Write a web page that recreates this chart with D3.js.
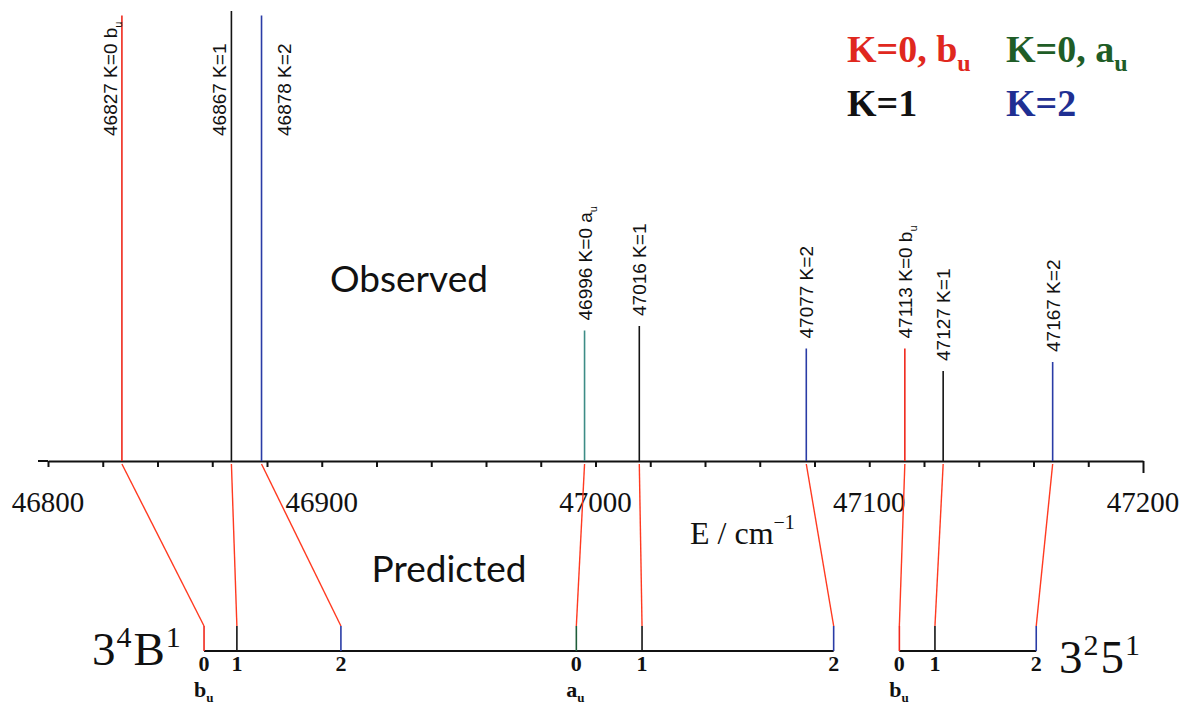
<!DOCTYPE html>
<html>
<head>
<meta charset="utf-8">
<script src="https://cdn.jsdelivr.net/npm/d3@7"></script>
<style>
  html, body { margin: 0; padding: 0; background: #fff; }
  svg { display: block; }
</style>
</head>
<body>
<script>
// Observed band origins (cm^-1), their K value, symmetry and relative intensity
const observedE = [46827, 46867, 46878, 46996, 47016, 47077, 47113, 47127, 47167];
const observedK = [0, 1, 2, 0, 1, 2, 0, 1, 2];
const observedSym = ["b", "", "", "a", "", "", "b", "", ""];
const observedIntensity = [99, 100, 99, 29, 30, 25, 25, 20, 22];
const observedLabelSide = ["left", "left", "right", "top", "top", "top", "top", "top", "top"];

// Predicted positions of the same levels, grouped by vibronic band
const predictedE = [46857, 46869, 46907, 46993, 47017, 47087, 47111, 47124, 47161];
const predictedGroup = [0, 0, 0, 0, 0, 0, 1, 1, 1];
// band designations as [base, superscript, base, superscript]
const groupNames = [["3", "4", "B", "1"], ["3", "2", "5", "1"]];

// Axis ticks
const minorTicks = d3.range(46800, 47201, 20);
const majorTicks = [46800, 46900, 47000, 47100, 47200];

// Legend entries
const legendText = ["K=0, b", "K=0, a", "K=1", "K=2"];
const legendSub = ["u", "u", "", ""];

const W = 1183, H = 704;
const colorOf = (k, sym) => k === 0 ? (sym === "a" ? "#3d8c86" : "#f0281c") : (k === 1 ? "#141414" : "#2a3ca6");
const legendColors = ["#e0281e", "#1f5d27", "#111111", "#1f2f92"];

const svg = d3.select("body").append("svg").attr("width", W).attr("height", H);
svg.append("rect").attr("width", W).attr("height", H).attr("fill", "#fff");

const x = d3.scaleLinear().domain([46800, 47200]).range([48, 1143]);
const axisY = 461;
const y = d3.scaleLinear().domain([0, 100]).range([axisY, 11]);

const serif = "'Liberation Serif', 'Times New Roman', serif";
const narrow = "'Liberation Sans Narrow', 'Arial Narrow', 'Liberation Sans', sans-serif";

// ---- energy axis ----
const axis = d3.axisBottom(x).tickValues(minorTicks).tickSize(6).tickSizeOuter(0).tickFormat("");
const gAxis = svg.append("g").attr("transform", `translate(0,${axisY})`).call(axis);
gAxis.select(".domain").attr("stroke", "#111").attr("stroke-width", 2);
gAxis.selectAll(".tick line").attr("stroke", "#111").attr("stroke-width", 2)
  .filter(d => d === 47200).attr("y2", 12);
// short lead-in left of the first tick
svg.append("line").attr("x1", x(46800) - 10).attr("x2", x(46800)).attr("y1", axisY).attr("y2", axisY)
  .attr("stroke", "#111").attr("stroke-width", 2);

svg.append("g").selectAll("text").data(majorTicks).join("text")
  .attr("x", d => x(d)).attr("y", 512)
  .attr("text-anchor", "middle")
  .attr("font-family", serif).attr("font-size", 29)
  .attr("fill", "#111")
  .text(d => d);

const eLabel = svg.append("text").attr("x", 690).attr("y", 544)
  .attr("font-family", serif).attr("font-size", 32).attr("fill", "#111");
eLabel.append("tspan").text("E / cm");
eLabel.append("tspan").attr("dy", -15).attr("font-size", 20).text("−1");

// ---- observed lines ----
const obs = observedE.map((e, i) => ({
  e, k: observedK[i], sym: observedSym[i], inten: observedIntensity[i], side: observedLabelSide[i],
  pe: predictedE[i], grp: predictedGroup[i]
}));

svg.append("g").selectAll("line").data(obs).join("line")
  .attr("x1", d => x(d.e)).attr("x2", d => x(d.e))
  .attr("y1", axisY).attr("y2", d => y(d.inten))
  .attr("stroke", d => colorOf(d.k, d.sym)).attr("stroke-width", 1.6);

const labels = svg.append("g").selectAll("text").data(obs).join("text")
  .attr("transform", d => {
    let bx, by;
    if (d.side === "left") { bx = x(d.e) - 5; by = 136; }
    else if (d.side === "right") { bx = x(d.e) + 29; by = 136; }
    else { bx = x(d.e) + 7; by = y(d.inten) - 10; }
    return `translate(${bx},${by}) rotate(-90)`;
  })
  .attr("font-family", narrow).attr("font-size", 19).attr("fill", "#111");
labels.append("tspan").text(d => `${d.e} K=${d.k}` + (d.sym ? ` ${d.sym}` : ""));
labels.filter(d => d.sym).append("tspan").attr("dy", 5).attr("font-size", 11).text("u");

// ---- correlation lines from observed to predicted ----
const stubTop = 626, baseY = 651;
svg.append("g").selectAll("line").data(obs).join("line")
  .attr("x1", d => x(d.e)).attr("y1", axisY + 3)
  .attr("x2", d => x(d.pe)).attr("y2", stubTop)
  .attr("stroke", "#ff3a20").attr("stroke-width", 1.4);

// ---- predicted levels ----
const groups = d3.groups(obs, d => d.grp);
svg.append("g").selectAll("line").data(groups).join("line")
  .attr("x1", g => x(d3.min(g[1], d => d.pe)))
  .attr("x2", g => x(d3.max(g[1], d => d.pe)))
  .attr("y1", baseY).attr("y2", baseY)
  .attr("stroke", "#111").attr("stroke-width", 2);

svg.append("g").selectAll("line").data(obs).join("line")
  .attr("x1", d => x(d.pe)).attr("x2", d => x(d.pe))
  .attr("y1", baseY).attr("y2", stubTop)
  .attr("stroke", d => d.k === 0 && d.sym === "a" ? "#1f5d3a" : colorOf(d.k, d.sym))
  .attr("stroke-width", 1.6);

svg.append("g").selectAll("text").data(obs).join("text")
  .attr("x", d => x(d.pe)).attr("y", 671)
  .attr("text-anchor", "middle")
  .attr("font-family", serif).attr("font-weight", "bold").attr("font-size", 22)
  .attr("fill", "#111").text(d => d.k);

const symLab = svg.append("g").selectAll("text").data(obs.filter(d => d.sym)).join("text")
  .attr("x", d => x(d.pe) - 10).attr("y", 697)
  .attr("font-family", serif).attr("font-weight", "bold").attr("font-size", 22)
  .attr("fill", "#111");
symLab.append("tspan").text(d => d.sym);
symLab.append("tspan").attr("dy", 5).attr("font-size", 13).text("u");

// band designations
function bandLabel(parts, bx, by) {
  const t = svg.append("text").attr("x", bx).attr("y", by)
    .attr("font-family", serif).attr("font-size", 47).attr("fill", "#111");
  parts.forEach((c, i) => {
    const sup = i % 2 === 1;
    t.append("tspan")
      .attr("dy", sup ? -18 : (i === 0 ? 0 : 18))
      .attr("dx", sup ? 1 : 2)
      .attr("font-size", sup ? 30 : 47)
      .text(c);
  });
}
bandLabel(groupNames[0], 90, 665);
bandLabel(groupNames[1], 1057, 673);

// ---- section titles ----
svg.append("text").attr("x", 409).attr("y", 292).attr("text-anchor", "middle")
  .attr("font-family", "Lato, 'Open Sans', sans-serif").attr("font-size", 37).attr("fill", "#111")
  .text("Observed");
svg.append("text").attr("x", 449).attr("y", 582).attr("text-anchor", "middle")
  .attr("font-family", "Lato, 'Open Sans', sans-serif").attr("font-size", 37).attr("fill", "#111")
  .text("Predicted");

// ---- legend ----
const legendPos = [[847, 62], [1006, 62], [847, 116], [1006, 116]];
legendText.forEach((txt, i) => {
  const t = svg.append("text").attr("x", legendPos[i][0]).attr("y", legendPos[i][1])
    .attr("font-family", serif).attr("font-weight", "bold").attr("font-size", 38)
    .attr("fill", legendColors[i]);
  t.append("tspan").text(txt);
  if (legendSub[i]) t.append("tspan").attr("dy", 9).attr("font-size", 24).text(legendSub[i]);
});
</script>
</body>
</html>
